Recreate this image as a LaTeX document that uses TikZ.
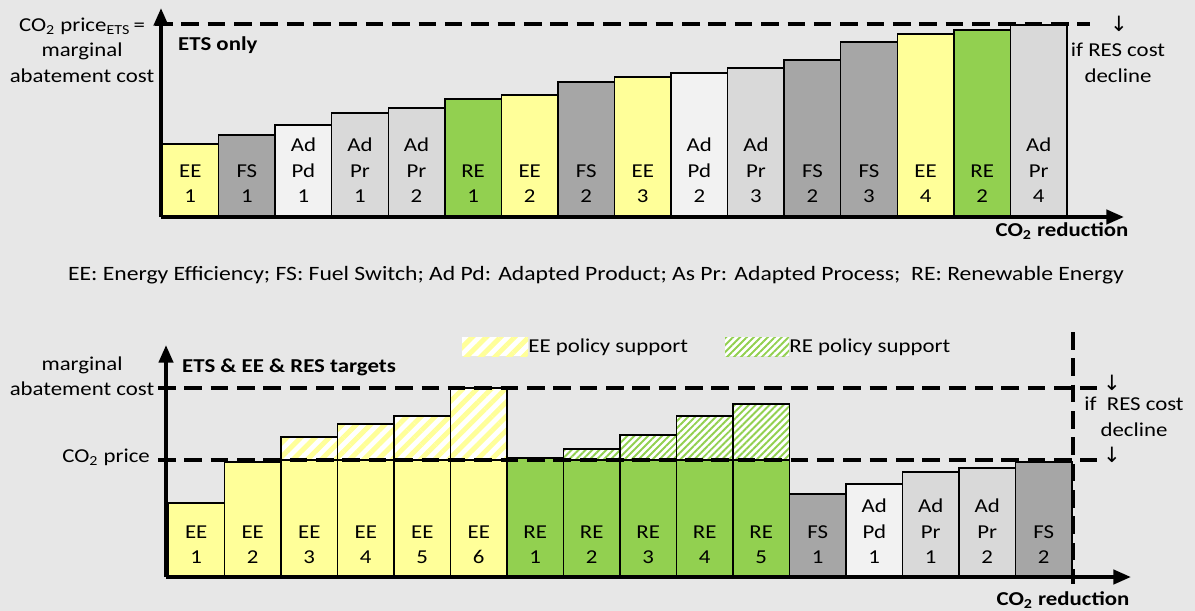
\documentclass[tikz,border=0pt]{standalone}
\usepackage{fontspec}
\setmainfont[FakeStretch=1.16]{Carlito}
\newfontfamily\arrowfont{DejaVu Sans}
\usepackage{tikz}
\usetikzlibrary{arrows.meta,patterns.meta}
\definecolor{bggray}{HTML}{E7E7E7}
\definecolor{eeyel}{HTML}{FFFF99}
\definecolor{regrn}{HTML}{92D050}
\definecolor{fsgray}{HTML}{A6A6A6}
\definecolor{pdgray}{HTML}{F2F2F2}
\definecolor{prgray}{HTML}{D9D9D9}
\tikzset{
  bar/.style={draw=black,line width=0.8pt},
  axis/.style={line width=2.2pt,-{Triangle[length=10pt,width=8pt]}},
  level/.style={line width=2.2pt,dash pattern=on 10pt off 5pt},
  lbl/.style={align=center,inner sep=0pt,anchor=south},
  dnarrow/.style={inner sep=0pt,font=\fontsize{12}{12}\arrowfont},
  eesup/.style={preaction={fill=white},pattern={Lines[angle=45,distance=5.7pt,line width=2.8pt]},pattern color=eeyel},
  resup/.style={preaction={fill=white},pattern={Lines[angle=45,distance=2.8pt,line width=1.1pt]},pattern color=regrn}
}

\begin{document}
\begin{tikzpicture}[x=0.02cm,y=-0.02cm,font=\fontsize{11.2}{14.5}\selectfont]
        \fill[bggray] (0,0) rectangle (1195,611);
        \useasboundingbox (0,0) rectangle (1195,611);

        % upper chart: ETS only
        \foreach \i/\c/\t/\txt in {1/eeyel/144/EE\\1, 2/fsgray/135/FS\\1, 3/pdgray/125/Ad\\Pd\\1,
                4/prgray/113/Ad\\Pr\\1, 5/prgray/108/Ad\\Pr\\2, 6/regrn/99/RE\\1, 7/eeyel/95/EE\\2,
                8/fsgray/82/FS\\2, 9/eeyel/77/EE\\3, 10/pdgray/73/Ad\\Pd\\2, 11/prgray/68/Ad\\Pr\\3,
                12/fsgray/60/FS\\2, 13/fsgray/42/FS\\3, 14/eeyel/34/EE\\4, 15/regrn/30/RE\\2,
                16/prgray/25/Ad\\Pr\\4}{
            \pgfmathsetmacro\xl{162+(\i-1)*56.56}
            \draw[bar,fill=\c] (\xl,217) rectangle ++(56.56,\t-217);
            \node[lbl] (up\i) at (\xl+28.28,203) {\txt};
        }
        \draw[level] (155,24) -- (1090,24);
        \coordinate (o1) at (161,217);
        \coordinate (y1) at (161,8);
        \coordinate (x1) at (1124,217);
        \draw[axis] (o1) -- (y1);
        \draw[axis] (o1) -- (x1);
        \node[align=center] (cost1) at (82,50) {CO\textsubscript{2} price\textsubscript{ETS}\,=\\marginal\\abatement cost};
        \node[anchor=west,font=\fontsize{11.2}{14.5}\selectfont\bfseries] (ets1) at (172,45) {ETS only};
        \node[font=\fontsize{11.2}{14.5}\selectfont\bfseries] (red1) at (1062,231) {CO\textsubscript{2} reduction};
        \node[dnarrow] (dn1) at (1119,24) {↓};
        \node[align=center] (res1) at (1118,63) {if RES cost\\decline};

        \node[font=\fontsize{11.6}{14.5}\selectfont] (key) at (596,275) {EE: Energy Efficiency; FS: Fuel Switch; Ad Pd: Adapted Product; As Pr: Adapted Process;\ \ RE: Renewable Energy};

        % lower chart: ETS & EE & RES targets
        \foreach \i/\c/\t/\txt in {1/eeyel/503/EE\\1, 2/eeyel/462/EE\\2, 3/eeyel/460/EE\\3,
                4/eeyel/460/EE\\4, 5/eeyel/460/EE\\5, 6/eeyel/460/EE\\6, 7/regrn/458/RE\\1,
                8/regrn/460/RE\\2, 9/regrn/460/RE\\3, 10/regrn/460/RE\\4, 11/regrn/460/RE\\5,
                12/fsgray/494/FS\\1, 13/pdgray/484/Ad\\Pd\\1, 14/prgray/472/Ad\\Pr\\1,
                15/prgray/468/Ad\\Pr\\2, 16/fsgray/462/FS\\2}{
            \pgfmathsetmacro\xl{168+(\i-1)*56.5}
            \draw[bar,fill=\c] (\xl,577) rectangle ++(56.5,\t-577);
            \node[lbl] (lo\i) at (\xl+28.25,564) {\txt};
        }
        \foreach \i/\t in {3/437, 4/424, 5/416, 6/388}{
            \pgfmathsetmacro\xl{168+(\i-1)*56.5}
            \draw[bar,eesup] (\xl,460) rectangle ++(56.5,\t-460);
        }
        \foreach \i/\t in {8/449, 9/435, 10/416, 11/404}{
            \pgfmathsetmacro\xl{168+(\i-1)*56.5}
            \draw[bar,resup] (\xl,460) rectangle ++(56.5,\t-460);
        }
        \draw[level] (158,388) -- (1097,388);
        \draw[level] (158,460) -- (1097,460);
        \draw[level] (1073,332) -- (1073,584);
        \coordinate (o2) at (166,577);
        \coordinate (y2) at (166,345);
        \coordinate (x2) at (1131,577);
        \draw[axis] (o2) -- (y2);
        \draw[axis] (o2) -- (x2);
        \node[align=center] (cost2) at (82,376) {marginal\\abatement cost};
        \node[anchor=east] (price2) at (156,457) {CO\textsubscript{2} price};
        \node[anchor=west,font=\fontsize{11.2}{14.5}\selectfont\bfseries] (ets2) at (176,367) {ETS \& EE \& RES targets};
        \node[font=\fontsize{11.2}{14.5}\selectfont\bfseries] (red2) at (1063,600) {CO\textsubscript{2} reduction};
        \node[dnarrow] (dn2) at (1112,383) {↓};
        \node[dnarrow] (dn3) at (1112,455) {↓};
        \node[align=center,inner sep=0pt] (res2) at (1134,417) {if\ \ RES cost\\decline};

        % legend
        \draw[eesup,draw=none] (462,337) rectangle (528,356);
        \node[anchor=west,inner sep=0pt] (leg1) at (528,347) {EE policy support};
        \draw[resup,draw=none] (725,337) rectangle (789,356);
        \node[anchor=west,inner sep=0pt] (leg2) at (789,347) {RE policy support};
\end{tikzpicture}
\end{document}
